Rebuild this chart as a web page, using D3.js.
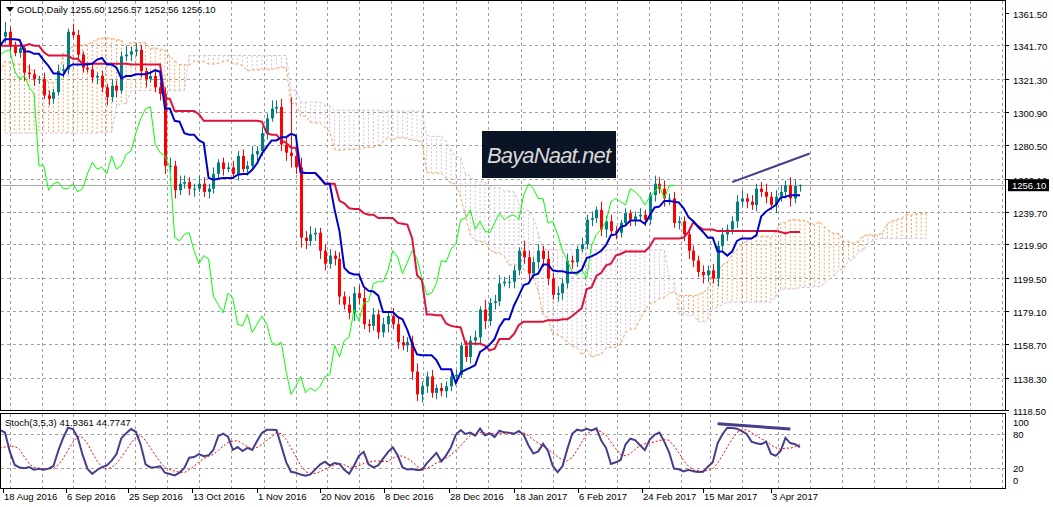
<!DOCTYPE html>
<html>
<head>
<meta charset="utf-8">
<script src="https://cdnjs.cloudflare.com/ajax/libs/d3/7.8.5/d3.min.js"></script>
<style>
  body { margin: 0; background: #fff; }
  text { font-family: "Liberation Sans", Arial, sans-serif; font-size: 10px; }
</style>
</head>
<body>
<div class="chart"></div>
<script>
// closes before 18 Aug 2016 (off screen, only needed for the Ichimoku lookback)
var preCloses = [1291,1279,1274,1290,
  1265,1264,1275,1264,1272, 1274,1276,1258,1255,1252, 1250,1229,1225,1220,1212,
  1210,1215,1213,1211,1243, 1246,1246,1262,1272,1275, 1283,1285,1290,1278,1298,
  1279,1270,1266,1262,1322, 1325,1314,1316,1322,1340, 1350,1353,1366,1361,1366,
  1356,1334,1343,1332,1327, 1331,1331,1317,1330,1323, 1319,1319,1326,1333,1350,
  1356,1366,1358,1362,1336, 1340,1339,1348,1343,1335, 1339,1347,1347];

// daily closes, 18 Aug 2016 .. 7 Apr 2017
var closes = [1350,1341,
  1337,1340,1325,1324,1321, 1321,1311,1309,1313,1326, 1327,1350,1348,1336,1328,
  1327,1322,1323,1316,1310, 1317,1314,1335,1336,1338, 1339,1326,1321,1323,1316,
  1312,1268,1268,1253,1257, 1258,1254,1254,1257,1252, 1254,1263,1270,1266,1267,
  1263,1274,1266,1268,1275, 1277,1288,1297,1303,1304, 1281,1276,1274,1267,1224,
  1222,1226,1227,1216,1208, 1213,1211,1188,1183,1178, 1190,1187,1171,1170,1177,
  1166,1171,1176,1171,1160, 1158,1160,1142,1128,1133, 1139,1129,1132,1130,1133,
  1139,1140,1158,1151, 1161,1163,1180,1173,
  1184,1185,1196,1197,1197, 1204,1216,1212,1202,1209, 1216,1211,1199,1189,1190,
  1196,1210,1209,1217,1220, 1235,1236,1241,1229,1234, 1228,1227,1233,1239,1235,
  1237,1238,1235,1250,1257, 1254,1248,1248,1233,1234, 1226,1216,1210,1203,1201,
  1204,1199,1219,1226,1229, 1234,1246,1248,1246,1244, 1254,1252,1249,1244,1249,
  1252,1256,1248,1255.6,1256.1];
// upper / lower wick sizes
var wickUp = [6,3,
  3,4,2,5,3, 2,4,3,2,4, 3,2,5,3,2, 3,4,2,3,2, 4,3,3,5,3, 4,3,2,3,3,
  3,4,5,3,5, 4,3,3,5,4, 3,4,2,3,3, 4,3,4,3,5, 3,4,3,5,4, 5,4,34,4,6,
  4,5,3,3,4, 4,3,4,3,5, 4,5,6,3,4, 3,4,3,5,4, 4,3,4,5,3, 3,4,2,3,3,
  4,3,2,3, 3,4,2,6, 3,4,5,3,4, 3,2,6,4,3, 4,3,5,3,4, 3,4,3,2,4,
  3,4,2,5,3, 4,3,2,3,2, 3,4,3,2,5, 4,5,3,4,3, 3,4,3,3,4, 3,4,3,4,3,
  3,4,5,3,4, 3,4,5,3,4, 4,3,5,4,0.5];
var wickDn = [4,5,
  2,3,5,3,4, 3,2,4,3,2, 4,3,2,4,3, 2,3,4,3,5, 3,4,2,3,4, 3,4,5,2,3,
  4,5,4,5,3, 3,4,5,2,3, 4,3,3,4,2, 3,4,2,4,3, 4,3,4,2,3, 4,5,7,4,6,
  5,3,4,5,4, 3,4,5,3,4, 5,4,3,4,3, 4,3,5,3,4, 3,4,5,4,5, 4,3,4,3,4,
  3,4,2,3, 4,3,4,5, 3,4,3,2,4, 4,3,4,5,3, 4,5,4,3,4, 4,3,4,3,2,
  3,4,3,4,5, 3,4,3,2,4, 4,3,4,3,4, 3,5,4,3,4, 4,5,4,3,5, 4,3,5,3,4,
  3,4,3,4,3, 4,3,4,3,5, 3,4,5,3,3.5];

var tickDates = ["18 Aug 2016","6 Sep 2016","25 Sep 2016","13 Oct 2016","1 Nov 2016","20 Nov 2016",
  "8 Dec 2016","28 Dec 2016","18 Jan 2017","6 Feb 2017","24 Feb 2017","15 Mar 2017","3 Apr 2017"];
var tickPos = [3,66,128,192,257,320,384,449,514,578,642,703,771];
var priceTicks = [1361.50,1341.70,1321.30,1300.90,1280.50,1260.10,1239.70,1219.90,1199.50,1179.10,1158.70,1138.30,1118.50];
var stochTicks = [100, 80, 20, 0];
var header = "GOLD,Daily  1255.60 1256.57 1252.56 1256.10";
var stochHeader = "Stoch(3,5,3) 41.9361 44.7747";

// full series
var bars = preCloses.map(c => ({o: c, h: c, l: c, c: c}));
closes.forEach((c, i) => {
  var o = i === 0 ? 1347 : closes[i - 1];
  bars.push({o: o, c: c, h: Math.max(o, c) + wickUp[i], l: Math.min(o, c) - wickDn[i]});
});
var off = preCloses.length;
var n = bars.length;

function mid(end, len) {
  if (end - len + 1 < 0) return null;
  var s = bars.slice(end - len + 1, end + 1);
  return (d3.max(s, d => d.h) + d3.min(s, d => d.l)) / 2;
}
var tenkan = [], kijun = [], spanA = [], spanB = [], chikou = [];
for (var j = 0; j < n; j++) {
  var t = mid(j, 9), k = mid(j, 26), b = mid(j, 52);
  tenkan.push({i: j - off, v: t});
  kijun.push({i: j - off, v: k});
  spanA.push({i: j - off + 26, v: (t != null && k != null) ? (t + k) / 2 : null});
  spanB.push({i: j - off + 26, v: b});
  chikou.push({i: j - off - 26, v: bars[j].c});
}
// stochastic 3,5,3
var kArr = [];
for (var j = 0; j < n; j++) {
  if (j < 5) { kArr.push(null); continue; }
  var num = 0, den = 0;
  for (var s = j - 2; s <= j; s++) {
    var w = bars.slice(s - 2, s + 1);
    var ll = d3.min(w, d => d.l), hh = d3.max(w, d => d.h);
    num += bars[s].c - ll; den += hh - ll;
  }
  kArr.push(den === 0 ? 50 : 100 * num / den);
}
var stochK = [], stochD = [];
for (var j = off - 5; j < n; j++) {
  stochK.push({i: j - off, v: kArr[j]});
  stochD.push({i: j - off, v: d3.mean(kArr.slice(j - 4, j + 1))});
}

var svgWidth = 1053, svgHeight = 507;
var panelRight = 1005;
var svg = d3.select(".chart").append("svg").attr("width", svgWidth).attr("height", svgHeight);

var x = d3.scaleLinear().domain([0, closes.length - 1]).range([5, 800]);
var y = d3.scaleLinear().domain([1118.5, 1361.5]).range([410, 13]);
var ys = d3.scaleLinear().domain([0, 100]).range([480, 422]);

svg.append("clipPath").attr("id", "cm").append("rect").attr("x", 1).attr("y", 1).attr("width", panelRight - 1).attr("height", 409);
svg.append("clipPath").attr("id", "cs").append("rect").attr("x", 1).attr("y", 414).attr("width", panelRight - 1).attr("height", 74);

// grid
var gridX = [];
tickPos.forEach(tp => {
  gridX.push(tp + 7);
  gridX.push(tp + 39);
});
for (var gx = gridX[gridX.length - 1] + 32; gx < panelRight; gx += 32) gridX.push(gx);

var grid = svg.append("g").attr("stroke", "#a0a0a0").attr("stroke-dasharray", "3,3").attr("stroke-width", 1);
gridX.forEach(gx => {
  grid.append("line").attr("x1", Math.round(gx) + 0.5).attr("x2", Math.round(gx) + 0.5).attr("y1", 1).attr("y2", 410);
  grid.append("line").attr("x1", Math.round(gx) + 0.5).attr("x2", Math.round(gx) + 0.5).attr("y1", 414).attr("y2", 488);
});
priceTicks.slice(1, -1).forEach(p => {
  grid.append("line").attr("x1", 1).attr("x2", panelRight).attr("y1", Math.round(y(p)) + 0.5).attr("y2", Math.round(y(p)) + 0.5);
});
[80, 20].forEach(v => {
  grid.append("line").attr("x1", 1).attr("x2", panelRight).attr("y1", Math.round(ys(v)) + 0.5).attr("y2", Math.round(ys(v)) + 0.5);
});

var main = svg.append("g").attr("clip-path", "url(#cm)");

// cloud hatching
var cloud = main.append("g");
spanA.forEach((a, j) => {
  var b = spanB[j];
  if (a.v == null || b.v == null) return;
  cloud.append("line").attr("x1", x(a.i)).attr("x2", x(a.i))
    .attr("y1", y(a.v)).attr("y2", y(b.v))
    .attr("stroke", a.v > b.v ? "#f4a460" : "#d8bfd8")
    .attr("stroke-width", 1).attr("stroke-dasharray", "2,2");
});
var line = d3.line().defined(d => d.v != null).x(d => x(d.i)).y(d => y(d.v));
main.append("path").datum(spanA).attr("d", line).attr("fill", "none").attr("stroke", "#f4a460").attr("stroke-dasharray", "3,2");
main.append("path").datum(spanB).attr("d", line).attr("fill", "none").attr("stroke", "#d8bfd8").attr("stroke-dasharray", "3,2");

// current price line
main.append("line").attr("x1", 1).attr("x2", panelRight).attr("y1", Math.round(y(1256.1)) + 0.5).attr("y2", Math.round(y(1256.1)) + 0.5)
  .attr("stroke", "#a9a9a9");

// candles
var vis = bars.slice(off).map((b, i) => Object.assign({i: i}, b));
main.append("g").selectAll("line").data(vis).enter().append("line")
  .attr("x1", d => Math.round(x(d.i)) + 0.5).attr("x2", d => Math.round(x(d.i)) + 0.5)
  .attr("y1", d => y(d.h)).attr("y2", d => y(d.l))
  .attr("stroke", d => d.c >= d.o ? "#008080" : "#ff0000");
main.append("g").selectAll("rect").data(vis).enter().append("rect")
  .attr("x", d => Math.round(x(d.i)) - 1).attr("width", 3)
  .attr("y", d => y(Math.max(d.o, d.c))).attr("height", d => Math.max(1, Math.abs(y(d.o) - y(d.c))))
  .attr("fill", d => d.c >= d.o ? "#008080" : "#ff0000");

// ichimoku lines
main.append("path").datum(chikou).attr("d", line).attr("fill", "none").attr("stroke", "#00ff00").attr("stroke-width", 1);
main.append("path").datum(kijun).attr("d", line).attr("fill", "none").attr("stroke", "#dc143c").attr("stroke-width", 2);
main.append("path").datum(tenkan).attr("d", line).attr("fill", "none").attr("stroke", "#0000cd").attr("stroke-width", 2);

// trend line
main.append("line").attr("x1", x(150)).attr("y1", y(1258)).attr("x2", x(166)).attr("y2", y(1275.5))
  .attr("stroke", "#483d8b").attr("stroke-width", 2);

// logo
svg.append("rect").attr("x", 482).attr("y", 131).attr("width", 134).attr("height", 47).attr("fill", "#0b1424");
svg.append("text").attr("x", 487).attr("y", 163).attr("fill", "#d8d8d8")
  .style("font-size", "22px").style("font-style", "italic")
  .attr("textLength", 124).text("BayaNaat.net");

// stochastic
var st = svg.append("g").attr("clip-path", "url(#cs)");
var sline = d3.line().defined(d => d.v != null).x(d => x(d.i)).y(d => ys(d.v));
st.append("path").datum(stochD).attr("d", sline).attr("fill", "none").attr("stroke", "#ff0000").attr("stroke-dasharray", "2,2");
st.append("path").datum(stochK).attr("d", sline).attr("fill", "none").attr("stroke", "#483d8b").attr("stroke-width", 2);
st.append("line").attr("x1", x(147)).attr("y1", ys(97)).attr("x2", x(162)).attr("y2", ys(88))
  .attr("stroke", "#483d8b").attr("stroke-width", 3);

// frames
svg.append("rect").attr("x", 0.5).attr("y", 0.5).attr("width", panelRight).attr("height", 410).attr("fill", "none").attr("stroke", "#000");
svg.append("rect").attr("x", 0.5).attr("y", 413.5).attr("width", panelRight).attr("height", 75).attr("fill", "none").attr("stroke", "#000");

// price axis
priceTicks.forEach(p => {
  var py = Math.round(y(p)) + 0.5;
  svg.append("line").attr("x1", panelRight).attr("x2", panelRight + 4).attr("y1", py).attr("y2", py).attr("stroke", "#000");
  svg.append("text").attr("x", 1013).attr("y", py + 4).style("font-size", "9.5px").text(p.toFixed(2));
});
svg.append("rect").attr("x", 1008).attr("y", y(1256.1) - 6).attr("width", 41).attr("height", 12).attr("fill", "#000");
svg.append("text").attr("x", 1012).attr("y", y(1256.1) + 4).attr("fill", "#fff").style("font-size", "9.5px").text("1256.10");

stochTicks.forEach(v => {
  svg.append("text").attr("x", 1013).attr("y", ys(v) + 4).style("font-size", "9.5px").text(v);
});

// time axis
tickPos.forEach((tp, k) => {
  svg.append("line").attr("x1", tp + 0.5).attr("x2", tp + 0.5).attr("y1", 488).attr("y2", 493).attr("stroke", "#000");
  svg.append("text").attr("x", tp + 1).attr("y", 500).style("font-size", "9.5px").text(tickDates[k]);
});

// headers
svg.append("path").attr("d", "M6,7 L14,7 L10,12 Z").attr("fill", "#000");
svg.append("text").attr("x", 17).attr("y", 13).style("font-size", "9.5px").text(header);
svg.append("text").attr("x", 5).attr("y", 426).style("font-size", "9.5px").text(stochHeader);
</script>
</body>
</html>
